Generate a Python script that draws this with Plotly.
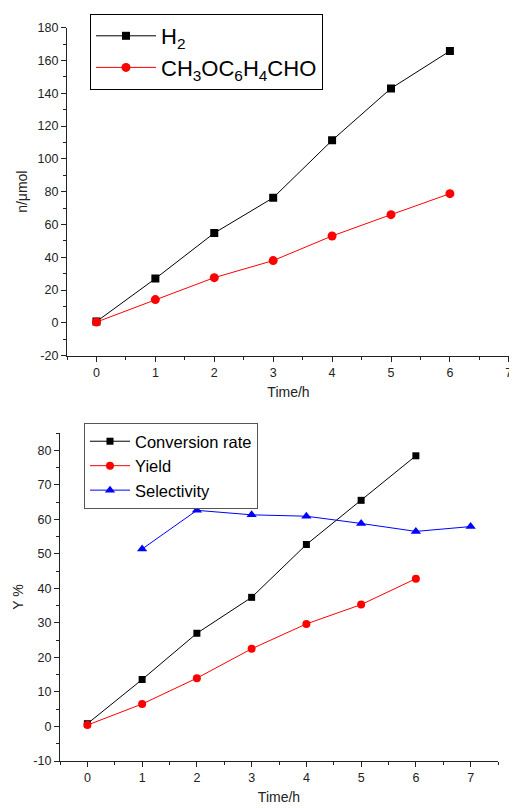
import plotly.graph_objects as go

OFF = 8  # page body margin offset
W, H = 517 - OFF, 808 - OFF

time_top = [0, 1, 2, 3, 4, 5, 6]
h2 = [0.8, 27.0, 54.8, 76.3, 111.3, 143.0, 165.8]
aldehyde = [0.5, 14.2, 27.6, 38.0, 53.0, 66.0, 78.8]

time_bot = [0, 1, 2, 3, 4, 5, 6]
conversion = [0.8, 13.6, 27.0, 37.4, 52.7, 65.5, 78.4]
yield_ = [0.4, 6.5, 14.0, 22.5, 29.7, 35.3, 42.8]
time_sel = [1, 2, 3, 4, 5, 6, 7]
selectivity = [51.4, 62.6, 61.3, 60.9, 58.8, 56.5, 57.9]

x_ticks = [0, 1, 2, 3, 4, 5, 6, 7]
y_ticks_top = [-20, 0, 20, 40, 60, 80, 100, 120, 140, 160, 180]
y_ticks_bot = [-10, 0, 10, 20, 30, 40, 50, 60, 70, 80]

FONT = "Liberation Sans, Arial, sans-serif"

def px_x(p):
    return (p - OFF) / W

def px_y(p):
    return 1 - (p - OFF) / H

fig = go.Figure()

fig.add_trace(go.Scatter(x=time_top, y=h2, mode="lines+markers", name="H<sub>2</sub>",
                         line=dict(color="black", width=1),
                         marker=dict(symbol="square", size=8, color="black"),
                         xaxis="x", yaxis="y", legend="legend"))
fig.add_trace(go.Scatter(x=time_top, y=aldehyde, mode="lines+markers",
                         name="CH<sub>3</sub>OC<sub>6</sub>H<sub>4</sub>CHO",
                         line=dict(color="red", width=1),
                         marker=dict(symbol="circle", size=9, color="red"),
                         xaxis="x", yaxis="y", legend="legend"))

fig.add_trace(go.Scatter(x=time_bot, y=conversion, mode="lines+markers", name="Conversion rate",
                         line=dict(color="black", width=1),
                         marker=dict(symbol="square", size=7, color="black"),
                         xaxis="x2", yaxis="y2", legend="legend2"))
fig.add_trace(go.Scatter(x=time_bot, y=yield_, mode="lines+markers", name="Yield",
                         line=dict(color="red", width=1),
                         marker=dict(symbol="circle", size=8, color="red"),
                         xaxis="x2", yaxis="y2", legend="legend2"))
fig.add_trace(go.Scatter(x=time_sel, y=selectivity, mode="lines+markers", name="Selectivity",
                         line=dict(color="blue", width=1),
                         marker=dict(symbol="triangle-up", size=9, color="blue"),
                         xaxis="x2", yaxis="y2", legend="legend2"))

axis_common = dict(showline=True, linecolor="#222", linewidth=1.3, ticks="outside",
                   ticklen=5, tickwidth=1, tickcolor="#222", showgrid=False, zeroline=False,
                   tickfont=dict(size=12.5, color="#222", family=FONT), mirror=False,
                   automargin=False, ticklabeloverflow="allow")

fig.update_layout(
    width=W, height=H,
    margin=dict(l=0, r=0, t=0, b=0),
    paper_bgcolor="white", plot_bgcolor="white",
    font=dict(family=FONT, color="#222"),
    xaxis=dict(domain=[px_x(67), px_x(510)], range=[-0.5, 7.02], anchor="y",
               tickvals=x_ticks, ticktext=[str(v) for v in x_ticks],
               minor=dict(dtick=0.5, tick0=0, ticks="outside", ticklen=3, tickcolor="#222"),
               title=dict(text="Time/h", font=dict(size=14), standoff=8),
               **axis_common),
    yaxis=dict(domain=[px_y(355.7), px_y(27.7)], range=[-20, 180], anchor="x",
               tickvals=y_ticks_top, ticktext=[str(v) for v in y_ticks_top],
               minor=dict(dtick=10, tick0=0, ticks="outside", ticklen=3, tickcolor="#222"),
               title=dict(text="n/μmol", font=dict(size=14), standoff=6),
               **axis_common),
    xaxis2=dict(domain=[px_x(60), px_x(498)], range=[-0.5, 7.5], anchor="y2",
                tickvals=x_ticks, ticktext=[str(v) for v in x_ticks],
                minor=dict(dtick=0.5, tick0=0, ticks="outside", ticklen=3, tickcolor="#222"),
                title=dict(text="Time/h", font=dict(size=14), standoff=8),
                **axis_common),
    yaxis2=dict(domain=[px_y(761), px_y(433)], range=[-10, 85], anchor="x2",
                tickvals=y_ticks_bot, ticktext=[str(v) for v in y_ticks_bot],
                minor=dict(dtick=5, tick0=0, ticks="outside", ticklen=3, tickcolor="#222"),
                title=dict(text="Y %", font=dict(size=14), standoff=6),
                **axis_common),
    legend=dict(x=px_x(90), y=px_y(14), xanchor="left", yanchor="top",
                bgcolor="white", bordercolor="black", borderwidth=1,
                font=dict(size=22, color="black", family=FONT),
                tracegroupgap=0, itemwidth=60),
    legend2=dict(x=px_x(84), y=px_y(423), xanchor="left", yanchor="top",
                 bgcolor="white", bordercolor="#555", borderwidth=1,
                 font=dict(size=16.5, color="black", family=FONT),
                 tracegroupgap=0, itemwidth=40),
    showlegend=True,
)

fig.write_html("out.html")
